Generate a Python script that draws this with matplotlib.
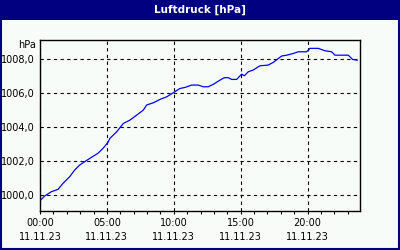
import numpy as np
import matplotlib
matplotlib.use('Agg')
import matplotlib.pyplot as plt
from matplotlib.patches import Rectangle

# hours since 00:00 on 11.11.23 and pressure in hPa
hours = [0.05, 0.35, 0.85, 1.35, 1.72, 2.22, 2.59, 2.96, 3.46, 3.84, 4.33, 4.71,
         5.08, 5.23, 5.73, 6.23, 6.73, 7.23, 7.72, 7.97, 8.47, 8.97, 9.47, 9.96,
         10.46, 10.84, 11.34, 11.83, 12.2, 12.58, 12.95, 13.33, 13.77, 14.07,
         14.33, 14.7, 15.07, 15.27, 15.57, 15.94, 16.44, 17.06, 17.44, 18.06,
         18.44, 18.93, 19.31, 19.93, 20.18, 20.8, 21.3, 21.8, 22.05, 23.04,
         23.37, 23.72]
pressure = [999.72, 999.96, 1000.21, 1000.35, 1000.70, 1001.09, 1001.48, 1001.77,
            1002.03, 1002.22, 1002.46, 1002.75, 1003.10, 1003.34, 1003.72, 1004.21,
            1004.41, 1004.70, 1004.99, 1005.29, 1005.42, 1005.62, 1005.77, 1006.01,
            1006.26, 1006.32, 1006.46, 1006.46, 1006.36, 1006.36, 1006.50, 1006.69,
            1006.89, 1006.89, 1006.79, 1006.79, 1007.10, 1007.00, 1007.24, 1007.34,
            1007.59, 1007.63, 1007.79, 1008.16, 1008.21, 1008.31, 1008.41, 1008.41,
            1008.61, 1008.61, 1008.47, 1008.41, 1008.21, 1008.21, 1007.96, 1007.92]

xticks = [0, 5, 10, 15, 20]
xlabels = ['00:00\n11.11.23', '05:00\n11.11.23', '10:00\n11.11.23',
           '15:00\n11.11.23', '20:00\n11.11.23']
yticks = [1000, 1002, 1004, 1006, 1008]
ylabels = ['1000,0', '1002,0', '1004,0', '1006,0', '1008,0']

navy = '#000080'
bg = '#f8fcf8'

fig = plt.figure(figsize=(4, 2.5), dpi=100, facecolor=bg)
# title bar and frame
fig.patches.append(Rectangle((0, 1 - 20 / 250), 1, 20 / 250, transform=fig.transFigure,
                             facecolor=navy, edgecolor='none', zorder=0))
fig.patches.append(Rectangle((0.5 / 400, 1 / 250), 398.5 / 400, 1 - 1 / 250,
                             transform=fig.transFigure, facecolor='none',
                             edgecolor=navy, linewidth=1.5, zorder=0))
fig.text(0.5, 1 - 10 / 250, 'Luftdruck [hPa]', color='white', fontsize=7.5,
         fontweight='bold', ha='center', va='center')

ax = fig.add_axes([40 / 400, 1 - 211 / 250, 320 / 400, 171 / 250])
ax.set_facecolor(bg)
ax.plot(hours, pressure, color='#0000ff', linewidth=0.9)
ax.set_xlim(0, 23.92)
ax.set_ylim(999.08, 1009.1)

ax.set_xticks(xticks)
ax.set_xticklabels(xlabels, fontsize=7, linespacing=1.55)
ax.set_xticks(np.arange(0, 24, 1), minor=True)
ax.set_yticks(yticks)
ax.set_yticklabels(ylabels, fontsize=7)
ax.tick_params(axis='x', which='both', direction='out', length=2.5, width=0.8, pad=2.5)
ax.tick_params(axis='y', length=0, pad=4)
ax.grid(True, which='major', color='black', linestyle=(0, (3, 3)), linewidth=0.8)
for s in ax.spines.values():
    s.set_color('black')
    s.set_linewidth(1)

fig.text(36 / 400, 1 - 45 / 250, 'hPa', fontsize=7, ha='right', va='center')

fig.savefig('out.png', dpi=100, facecolor=bg)
